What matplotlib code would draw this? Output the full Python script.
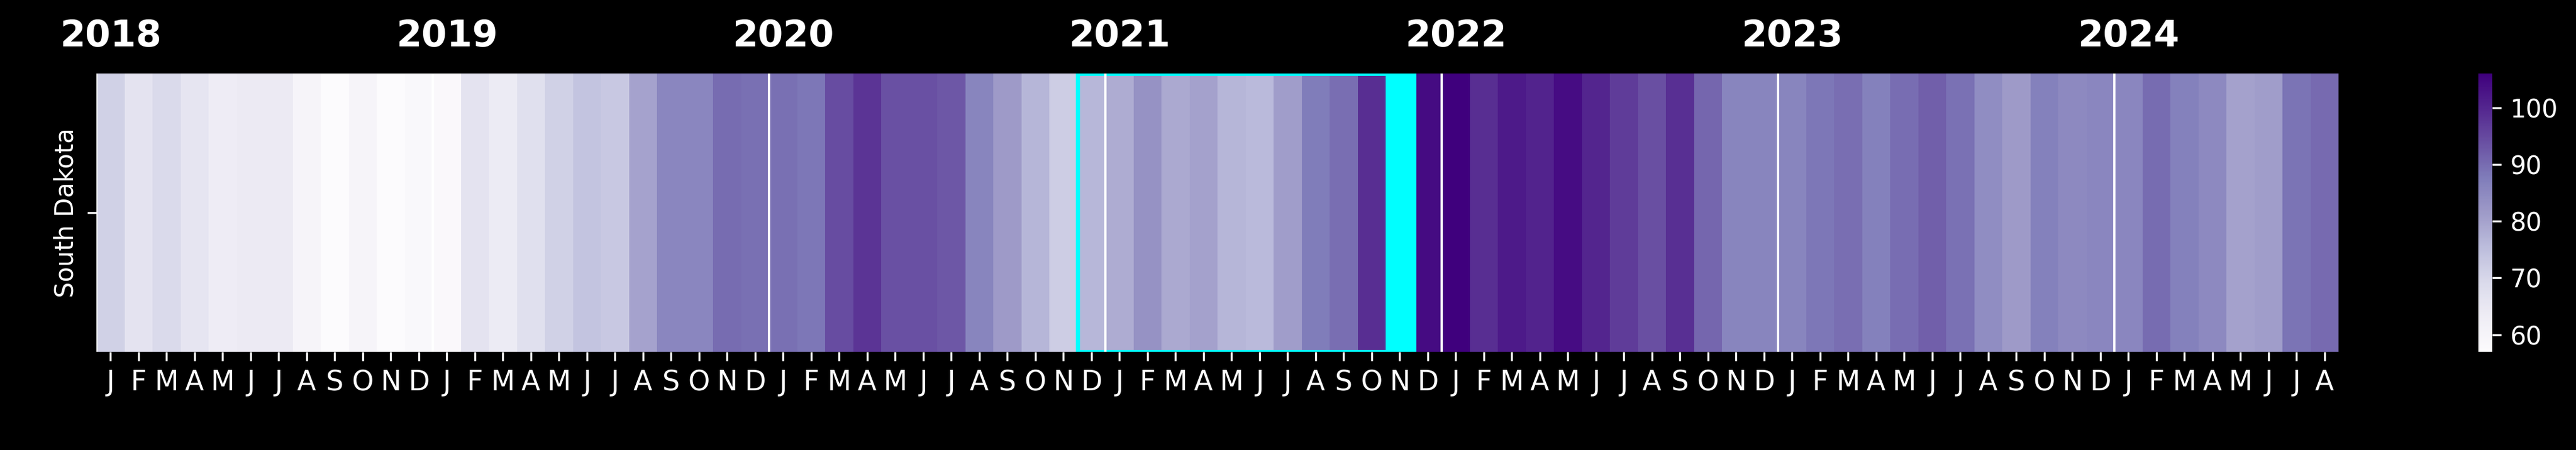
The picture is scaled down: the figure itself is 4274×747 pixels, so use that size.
import matplotlib
matplotlib.use('Agg')
import matplotlib.pyplot as plt
import matplotlib.patches as mpatches
import matplotlib.transforms as mtransforms
import numpy as np
import pandas as pd
import seaborn as sns

STATE = 'South Dakota'
START = '2018-01'
N_MONTHS = 80

# monthly index values, Jan 2018 .. Aug 2024 (Nov 2021 missing)
VALUES = [
    71.3, 66.3, 69.2, 65.8, 63.4, 64.1, 64.1, 60.0, 57.2, 60.0, 57.0, 58.5,   # 2018
    58.3, 66.3, 64.0, 67.5, 71.3, 74.0, 72.9, 80.1, 85.6, 85.6, 90.1, 89.5,   # 2019
    89.5, 88.4, 94.5, 97.8, 93.9, 93.9, 92.8, 86.0, 81.5, 76.6, 72.1, 76.5,   # 2020
    78.4, 83.1, 79.0, 80.3, 76.6, 75.8, 81.1, 87.6, 89.7, 98.8, np.nan, 104.1, # 2021
    106.0, 98.8, 101.9, 100.4, 104.0, 100.2, 96.7, 94.0, 98.7, 90.7, 86.0, 86.0,  # 2022
    86.0, 88.5, 89.6, 86.8, 89.9, 91.8, 89.2, 84.2, 81.5, 86.8, 85.0, 85.7,   # 2023
    85.7, 90.0, 86.7, 85.0, 80.3, 81.1, 88.9, 90.3,                           # 2024
]

HIGHLIGHT_START = '2020-12'
HIGHLIGHT_END = '2021-11'
HIGHLIGHT_COLOR = 'cyan'
MONTH_INITIALS = ['J', 'F', 'M', 'A', 'M', 'J', 'J', 'A', 'S', 'O', 'N', 'D']

W, H, DPI = 4274, 747, 300

months = pd.period_range(START, periods=N_MONTHS, freq='M')
df = pd.DataFrame([VALUES], index=[STATE], columns=months.astype(str))

fig = plt.figure(figsize=(W / DPI, H / DPI), dpi=DPI, facecolor='black')
ax = fig.add_axes([160 / W, 1 - 584 / H, 3720 / W, 462 / H])
cax = fig.add_axes([4112 / W, 1 - 584 / H, 23 / W, 462 / H])

sns.heatmap(df, ax=ax, cbar_ax=cax, cmap='Purples')
# missing month shows through as cyan
ax.set_facecolor(HIGHLIGHT_COLOR)

# highlight box
i0 = months.get_loc(pd.Period(HIGHLIGHT_START, 'M'))
i1 = months.get_loc(pd.Period(HIGHLIGHT_END, 'M'))
ax.add_patch(mpatches.Rectangle((i0, 0), i1 - i0 + 1, 1, fill=False,
                                edgecolor=HIGHLIGHT_COLOR, linewidth=1.7,
                                zorder=3))

# year separators + labels
trans = mtransforms.blended_transform_factory(ax.transData, ax.transAxes)
for i, p in enumerate(months):
    if p.month == 1:
        ax.axvline(i, color='white', linewidth=0.9, zorder=4)
        ax.text(i + 0.5, 1.098, str(p.year), transform=trans, ha='center',
                va='baseline', fontsize=14.6, fontweight='bold', color='white')

ax.set_xticks(np.arange(N_MONTHS) + 0.5)
ax.set_xticklabels([MONTH_INITIALS[p.month - 1] for p in months],
                   rotation=0, fontsize=11, color='white')
ax.set_yticks([0.5])
ax.set_yticklabels([STATE], rotation=90, va='center', fontsize=10,
                   color='white')
ax.set_xlabel('')
ax.set_ylabel('')
ax.tick_params(colors='white')

cax.tick_params(colors='white', labelsize=10)
for t in cax.get_yticklabels():
    t.set_color('white')

fig.savefig('out.png', dpi=DPI, facecolor='black')
